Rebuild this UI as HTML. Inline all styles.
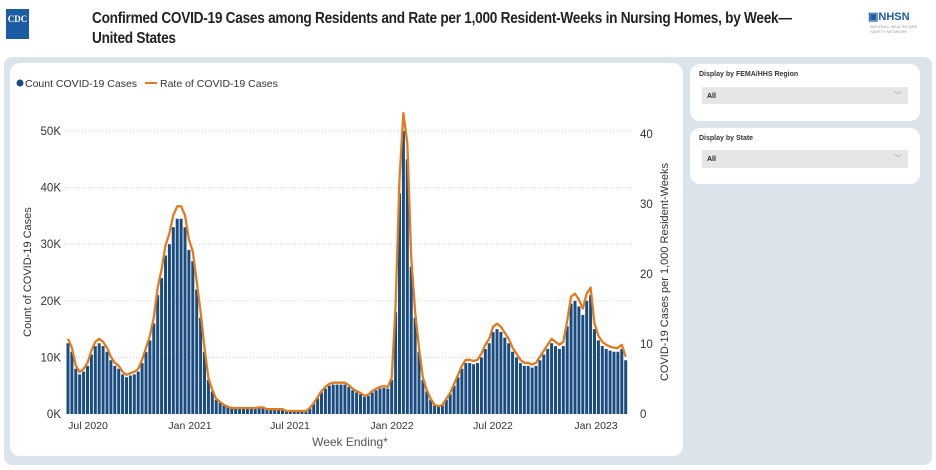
<!DOCTYPE html>
<html><head><meta charset="utf-8"><style>
body{margin:0;width:936px;height:470px;background:#fff;font-family:"Liberation Sans",sans-serif;position:relative;overflow:hidden}
.t{position:absolute;left:92px;top:9px;font-size:15.5px;font-weight:bold;color:#222;line-height:20px;letter-spacing:-0.3px;transform:scaleX(0.88);transform-origin:0 0;white-space:nowrap}
.bg{position:absolute;left:4px;top:57px;width:928px;height:408px;background:#dbe3eb;border-radius:8px}
.card{position:absolute;background:#fff;border-radius:10px}
.lab{position:absolute;font-size:7px;color:#333;font-weight:bold}
.dd{position:absolute;background:#e6e6e6;font-size:7px;color:#222;padding:6px 0 0 5px;box-sizing:border-box;font-weight:bold}
.dd span{position:absolute;right:6px;top:3px;color:#999;font-size:8px;font-weight:normal}
</style></head><body>
<div style="position:absolute;left:6px;top:9px;width:23px;height:30px;background:#1c5ca2;color:#fff;font:bold 9px 'Liberation Serif',serif;text-align:center;line-height:20px;overflow:hidden">CDC</div>
<div class="t">Confirmed COVID-19 Cases among Residents and Rate per 1,000 Resident-Weeks in Nursing Homes, by Week—<br>United States</div>
<div style="position:absolute;left:868px;top:10px;font:bold 11px 'Liberation Sans',sans-serif;color:#1c5ca2">▣NHSN</div>
<div style="position:absolute;left:870px;top:24px;font-size:4px;color:#999;width:50px;line-height:5px">NATIONAL HEALTHCARE SAFETY NETWORK</div>
<div class="bg"></div>
<div class="card" style="left:10px;top:63px;width:673px;height:393px"></div>
<div class="card" style="left:690px;top:64px;width:230px;height:57px"></div>
<div class="card" style="left:690px;top:128px;width:230px;height:56px"></div>
<div class="lab" style="left:699px;top:71px">Display by FEMA/HHS Region</div>
<div class="dd" style="left:702px;top:87px;width:206px;height:17px">All<span>﹀</span></div>
<div class="lab" style="left:699px;top:135px">Display by State</div>
<div class="dd" style="left:702px;top:150px;width:206px;height:18px">All<span>﹀</span></div>
<svg id="s" width="936" height="470" style="position:absolute;left:0;top:0" font-family="Liberation Sans, sans-serif"></svg>
<script>
var c=[12.5,11,8,7,7.5,8.5,10.5,12,12.5,12,11,9.5,8.5,8,7,6.5,6.8,7,7.5,9,11,13,16,21,24,28,30,33,34.5,34.5,33,29,27,22,17,11,6,4,2.5,2,1.5,1.2,1,1,1,1,1,1,1,1.1,1.1,0.8,0.8,0.8,0.8,0.8,0.5,0.5,0.5,0.5,0.5,0.5,1,1.8,2.8,3.8,4.5,5,5.2,5.2,5.2,5.2,4.8,4.2,3.8,3.5,3,3.2,3.8,4.2,4.5,4.6,4.5,6,18,39,50,45,26,17,11,6,4,2.5,1.5,1.3,1.5,2.5,3.5,5,6.5,8,9,9,8.8,9,10,11.5,12.5,14.5,15,14.5,13.5,12.5,11,10,9,8.5,8.5,8.2,8.5,9.5,10.5,11.5,12.5,12,11.5,12,15.5,19.5,20,19,17.5,20,21,15,13,12,11.5,11.2,11,11,11.5,9.5];
var h='',b=414,k=5.66;
for(var i=0;i<=5;i++){var y=b-i*10*k;if(i)h+='<line x1="64" x2="632" y1="'+y+'" y2="'+y+'" stroke="#ccc" stroke-dasharray="1,2"/>';h+='<text x="61" y="'+(y+4)+'" font-size="11.5" fill="#333" text-anchor="end">'+i*10+'K</text>';}
for(var i=0;i<=4;i++){var y=b-i*10*7;h+='<text x="640" y="'+(y+4)+'" font-size="11.5" fill="#333">'+i*10+'</text>';}
var p='';
for(var i=0;i<c.length;i++){var x=68+i*3.9;h+='<rect x="'+(x-1.5)+'" y="'+(b-c[i]*k)+'" width="3" height="'+(c[i]*k)+'" fill="#1a4c80"/>';p+=(i?'L':'M')+x.toFixed(1)+' '+(b-c[i]*0.86*7).toFixed(1);}
h+='<path d="'+p+'" fill="none" stroke="#e07b1e" stroke-width="2.3" stroke-linejoin="round"/>';
var L=[[88,'Jul 2020'],[190,'Jan 2021'],[290,'Jul 2021'],[392,'Jan 2022'],[493,'Jul 2022'],[596,'Jan 2023']];
L.forEach(function(a){h+='<text x="'+a[0]+'" y="429" font-size="10.5" fill="#333" text-anchor="middle">'+a[1]+'</text>';});
h+='<text x="350" y="446" font-size="12" fill="#555" text-anchor="middle">Week Ending*</text>';
h+='<text transform="translate(31,272) rotate(-90)" font-size="11" fill="#333" text-anchor="middle">Count of COVID-19 Cases</text>';
h+='<text transform="translate(668,272) rotate(-90)" font-size="11" fill="#333" text-anchor="middle">COVID-19 Cases per 1,000 Resident-Weeks</text>';
h+='<circle cx="20" cy="83" r="3.5" fill="#1a4c80"/><text x="25" y="87" font-size="10.5" fill="#333">Count COVID-19 Cases</text>';
h+='<line x1="145" x2="157" y1="83" y2="83" stroke="#e07b1e" stroke-width="2"/><text x="160" y="87" font-size="10.5" fill="#333">Rate of COVID-19 Cases</text>';
document.getElementById('s').innerHTML=h;
</script>
</body></html>
